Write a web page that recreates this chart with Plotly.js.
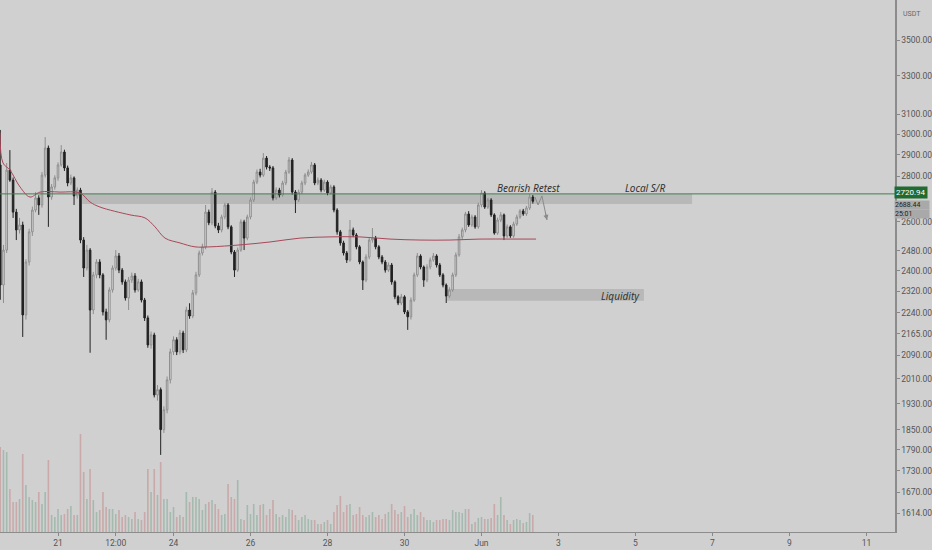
<!DOCTYPE html>
<html>
<head>
<meta charset="utf-8">
<script src="https://cdn.plot.ly/plotly-3.0.1.min.js"></script>
<style>
  html, body { margin: 0; padding: 0; background: #d0d0d0; }
  #plot { width: 932px; height: 550px; }
</style>
</head>
<body>
<div id="plot"></div>
<script>
// 2h candles, first one opens 2021-05-19 12:00
var startUTC = Date.UTC(2021, 4, 19, 12);
var stepMs = 2 * 3600 * 1000;

var opens = [2853,2344,2482,2829,2783,2641,2565,2586,2232,2434,2557,2650,2703,2672,2806,2933,2707,2752,2793,2853,
  2914,2839,2770,2793,2712,2738,2523,2410,2482,2250,2383,2434,2383,2243,2214,2325,2410,2458,2402,2356,
  2295,2363,2379,2325,2356,2287,2221,2125,2160,1958,1975,1850,1911,2007,2101,2143,2101,2167,2108,2250,
  2228,2314,2383,2470,2495,2641,2595,2729,2582,2565,2620,2672,2578,2474,2402,2482,2599,2531,2620,2694,
  2774,2820,2806,2885,2843,2839,2703,2738,2716,2770,2820,2876,2729,2694,2729,2770,2806,2820,2853,2770,
  2783,2738,2774,2725,2752,2650,2557,2511,2470,2442,2565,2544,2495,2434,2363,2454,2523,2531,2495,2454,
  2434,2402,2422,2356,2299,2276,2299,2243,2225,2287,2383,2458,2414,2363,2414,2442,2458,2422,2383,2344,
  2302,2325,2383,2462,2536,2565,2633,2586,2620,2578,2672,2725,2663,2694,2629,2552,2607,2629,2540,2578,
  2540,2590,2620,2646,2633,2659,2707];
var highs = [3021,2503,2862,2923,2795,2655,2616,2600,2445,2570,2665,2729,2715,2820,2986,2945,2765,2805,2865,2947,
  2925,2850,2808,2800,2750,2748,2535,2503,2490,2395,2445,2445,2390,2255,2335,2420,2482,2470,2410,2365,
  2375,2392,2390,2368,2365,2295,2230,2172,2168,1990,1982,1922,2018,2112,2155,2152,2178,2175,2262,2275,
  2325,2395,2480,2508,2672,2652,2747,2738,2595,2630,2681,2680,2585,2482,2492,2610,2608,2630,2705,2785,
  2832,2835,2909,2895,2852,2848,2750,2748,2780,2830,2890,2885,2738,2740,2780,2815,2832,2867,2862,2795,
  2792,2785,2782,2762,2760,2658,2565,2520,2478,2607,2575,2552,2502,2440,2465,2535,2573,2540,2502,2462,
  2442,2432,2430,2362,2305,2310,2305,2250,2297,2392,2470,2465,2420,2425,2452,2470,2465,2430,2390,2350,
  2335,2392,2472,2548,2575,2642,2645,2630,2628,2682,2738,2733,2703,2702,2636,2617,2641,2635,2588,2585,
  2600,2630,2654,2655,2668,2720,2716];
var lows = [2288,2276,2470,2775,2616,2523,2550,2153,2215,2420,2540,2640,2629,2660,2795,2578,2695,2740,2780,2845,
  2825,2755,2760,2672,2700,2510,2375,2400,2098,2235,2370,2370,2230,2143,2205,2315,2400,2390,2345,2285,
  2250,2352,2315,2318,2278,2210,2115,2112,1950,1940,1775,1840,1900,1995,2090,2090,2092,2097,2100,2218,
  2220,2305,2375,2460,2485,2585,2585,2572,2552,2555,2610,2568,2465,2375,2395,2475,2482,2522,2610,2685,
  2765,2795,2798,2832,2825,2692,2695,2705,2708,2760,2812,2718,2637,2685,2720,2760,2798,2812,2760,2760,
  2728,2730,2715,2718,2640,2545,2500,2460,2430,2435,2535,2485,2425,2325,2355,2445,2512,2485,2445,2425,
  2392,2395,2345,2290,2268,2268,2235,2178,2215,2280,2375,2405,2337,2355,2405,2435,2412,2375,2335,2276,
  2295,2318,2375,2455,2523,2555,2578,2578,2570,2570,2662,2655,2655,2620,2545,2545,2598,2523,2532,2532,
  2532,2582,2612,2625,2625,2650,2678];
var closes = [2344,2482,2829,2783,2641,2565,2586,2232,2434,2557,2650,2703,2672,2806,2933,2707,2752,2793,2853,2914,
  2839,2770,2793,2712,2738,2523,2410,2482,2250,2383,2434,2383,2243,2214,2325,2410,2458,2402,2356,2295,
  2363,2379,2325,2356,2287,2221,2125,2160,1958,1975,1850,1911,2007,2101,2143,2101,2167,2108,2250,2228,
  2314,2383,2470,2495,2641,2595,2729,2582,2565,2620,2672,2578,2474,2402,2482,2599,2531,2620,2694,2774,
  2820,2806,2885,2843,2839,2703,2738,2716,2770,2820,2876,2729,2694,2729,2770,2806,2820,2853,2770,2783,
  2738,2774,2725,2752,2650,2557,2511,2470,2442,2565,2544,2495,2434,2363,2454,2523,2531,2495,2454,2434,
  2402,2422,2356,2299,2276,2299,2243,2225,2287,2383,2458,2414,2363,2414,2442,2458,2422,2383,2344,2302,
  2325,2383,2462,2536,2565,2633,2586,2620,2578,2672,2725,2663,2694,2629,2552,2607,2629,2540,2578,2540,
  2590,2620,2646,2633,2659,2707,2688.44];
// volume, thousands
var volumesK = [85,82,80,43,30,30,33,78,47,35,32,30,40,28,40,72,17,15,23,17,
  18,23,26,17,17,98,60,33,63,32,20,22,40,25,23,23,18,22,15,17,
  15,13,20,13,12,20,63,40,63,37,70,33,33,20,25,15,17,15,40,30,
  35,35,33,22,28,30,32,28,23,17,18,48,35,33,52,13,12,27,18,28,
  17,27,28,17,23,32,18,15,17,15,23,22,17,12,15,17,13,12,12,8,
  8,10,12,8,20,27,36,20,27,28,17,18,25,17,15,17,20,15,17,13,
  18,20,28,22,18,20,26,15,18,23,17,20,15,12,12,10,12,12,13,13,
  12,22,20,20,19,23,23,8,10,14,15,13,13,14,28,17,35,17,12,8,
  12,13,12,9,10,19,17];

var maTimes = ['2021-05-19 11:50','2021-05-19 13:43','2021-05-19 18:04','2021-05-20 00:19','2021-05-20 06:32',
  '2021-05-20 12:47','2021-05-21 01:15','2021-05-21 13:43','2021-05-21 19:57','2021-05-22 02:11',
  '2021-05-22 20:53','2021-05-23 06:14','2021-05-23 12:27','2021-05-23 18:42','2021-05-24 04:03',
  '2021-05-24 13:24','2021-05-24 22:45','2021-05-25 17:27','2021-05-26 12:09','2021-05-27 06:52',
  '2021-05-28 01:34','2021-05-28 20:15','2021-05-29 14:57','2021-05-30 09:40','2021-05-31 04:22',
  '2021-05-31 23:04','2021-06-01 17:46','2021-06-02 09:59'];
var maValues = [3006,2862,2829,2752,2707,2729,2729,2725,2685,2663,2629,2616,2578,2531,2511,
  2495,2495,2503,2515,2531,2536,2536,2527,2523,2523,2527,2527,2527];

var arrowTimes = ['2021-06-02 09:20','2021-06-02 11:15','2021-06-02 13:40','2021-06-02 16:50'];
var arrowPrices = [2707, 2672, 2712, 2607];

var srLevel = 2720.94;
var srBottom = 2676;
var lastPrice = 2688.44;
var countdown = '25:01';
var liqTop = 2329, liqBottom = 2284;

var yTickVals = [3500,3300,3100,3000,2900,2800,2600,2480,2400,2320,2240,2165,2090,2010,1930,1850,1790,1730,1670,1614];
var yTickText = yTickVals.map(function (v) { return v.toFixed(2); });
var xTickVals = ['2021-05-21','2021-05-22 12:00','2021-05-24','2021-05-26','2021-05-28','2021-05-30',
  '2021-06-01','2021-06-03','2021-06-05','2021-06-07','2021-06-09','2021-06-11'];
var xTickText = ['21','12:00','24','26','28','30','Jun','3','5','7','9','11'];

var times = closes.map(function (_, i) {
  return new Date(startUTC + i * stepMs).toISOString().slice(0, 16).replace('T', ' ');
});
var volColors = closes.map(function (c, i) {
  return c >= opens[i] ? 'rgba(110,160,135,0.45)' : 'rgba(190,110,110,0.4)';
});

var tickFont = { family: 'Roboto, sans-serif', size: 8.5, color: '#555' };
var noteFont = { family: 'Noto Sans, sans-serif', size: 10, color: '#333', style: 'italic' };
var tagFont = { family: 'Roboto, sans-serif', size: 7, color: '#222222' };

var data = [
  {
    type: 'bar', x: times, y: volumesK, yaxis: 'y', xaxis: 'x',
    width: 3.6e6, marker: { color: volColors, line: { width: 0 } },
    hoverinfo: 'skip'
  },
  {
    type: 'candlestick', x: times, open: opens, high: highs, low: lows, close: closes,
    xaxis: 'x', yaxis: 'y2', whiskerwidth: 0,
    increasing: { line: { color: '#8e8e8e', width: 1 }, fillcolor: '#dcdcdc' },
    decreasing: { line: { color: '#222222', width: 1 }, fillcolor: '#222222' },
    hoverinfo: 'skip'
  },
  {
    type: 'scatter', mode: 'lines', x: maTimes, y: maValues, xaxis: 'x', yaxis: 'y2',
    line: { color: '#a8485a', width: 1, shape: 'spline' }, hoverinfo: 'skip'
  },
  {
    type: 'scatter', mode: 'lines', x: arrowTimes, y: arrowPrices, xaxis: 'x', yaxis: 'y2',
    line: { color: '#8a8a8a', width: 1 }, hoverinfo: 'skip'
  }
];

var layout = {
  width: 932, height: 550,
  paper_bgcolor: '#d0d0d0', plot_bgcolor: '#d0d0d0',
  margin: { l: 0, r: 37, t: 0, b: 18 },
  showlegend: false,
  xaxis: {
    type: 'date', range: ['2021-05-19 11:50', '2021-06-11 17:46'],
    rangeslider: { visible: false },
    tickvals: xTickVals, ticktext: xTickText,
    ticks: 'outside', ticklen: 3, tickcolor: '#888',
    showgrid: false, zeroline: false, showline: true, linecolor: '#8c8c8c', linewidth: 1,
    tickfont: tickFont, fixedrange: true
  },
  yaxis: { range: [0, 532], visible: false, fixedrange: true },
  yaxis2: {
    type: 'log', overlaying: 'y', side: 'right',
    range: [Math.log10(1564.6), Math.log10(3737)],
    tickvals: yTickVals, ticktext: yTickText,
    ticks: 'outside', ticklen: 3, tickcolor: '#888',
    showgrid: false, zeroline: false, showline: true, linecolor: '#8c8c8c', linewidth: 1.5,
    tickfont: tickFont, fixedrange: true
  },
  shapes: [
    { type: 'rect', layer: 'below', xref: 'x', yref: 'y2',
      x0: '2021-05-21 15:00', x1: '2021-06-06 11:15', y0: srBottom, y1: srLevel,
      fillcolor: 'rgba(130,130,130,0.3)', line: { width: 0 } },
    { type: 'rect', layer: 'below', xref: 'x', yref: 'y2',
      x0: '2021-05-31 02:30', x1: '2021-06-05 05:15', y0: liqBottom, y1: liqTop,
      fillcolor: 'rgba(130,130,130,0.3)', line: { width: 0 } },
    { type: 'line', xref: 'paper', yref: 'y2', x0: 0, x1: 1, y0: srLevel, y1: srLevel,
      line: { color: '#3f7f4f', width: 1 } }
  ],
  annotations: [
    { xref: 'x', yref: 'y2', x: '2021-06-02 05:00', y: Math.log10(2747), text: 'Bearish Retest',
      showarrow: false, font: noteFont },
    { xref: 'x', yref: 'y2', x: '2021-06-05 06:00', y: Math.log10(2747), text: 'Local S/R',
      showarrow: false, font: noteFont },
    { xref: 'x', yref: 'y2', x: '2021-06-04 14:20', y: Math.log10(2304), text: 'Liquidity',
      showarrow: false, font: noteFont },
    { xref: 'x', yref: 'y2', x: '2021-06-02 16:50', y: Math.log10(2607), text: '',
      showarrow: true, ax: -2, ay: -9, arrowhead: 2, arrowsize: 1, arrowwidth: 1, arrowcolor: '#8a8a8a', standoff: 0 },
    { xref: 'paper', yref: 'y2', x: 1, y: Math.log10(srLevel), xanchor: 'left', yanchor: 'middle',
      yshift: 1, xshift: -1, text: srLevel.toFixed(2), showarrow: false, bgcolor: '#1f6b30', borderpad: 1,
      font: { family: 'Roboto, sans-serif', size: 8, color: '#ffffff' } },
    { xref: 'paper', yref: 'y2', x: 1, y: Math.log10(lastPrice), xanchor: 'left', yanchor: 'top',
      yshift: 1, xshift: -1, width: 34, text: lastPrice.toFixed(2), showarrow: false, align: 'left',
      bgcolor: '#a9a9a9', borderpad: 0, font: tagFont },
    { xref: 'paper', yref: 'y2', x: 1, y: Math.log10(lastPrice), xanchor: 'left', yanchor: 'top',
      yshift: -7.5, xshift: -1, width: 34, text: countdown, showarrow: false, align: 'left',
      bgcolor: '#a9a9a9', borderpad: 0, font: tagFont },
    { xref: 'paper', yref: 'paper', x: 1, y: 0.985, xanchor: 'left', xshift: 6, text: 'USDT',
      showarrow: false, font: { family: 'Roboto, sans-serif', size: 7, color: '#666' } }
  ]
};

Plotly.newPlot('plot', data, layout, { displayModeBar: false, staticPlot: true });
</script>
</body>
</html>
